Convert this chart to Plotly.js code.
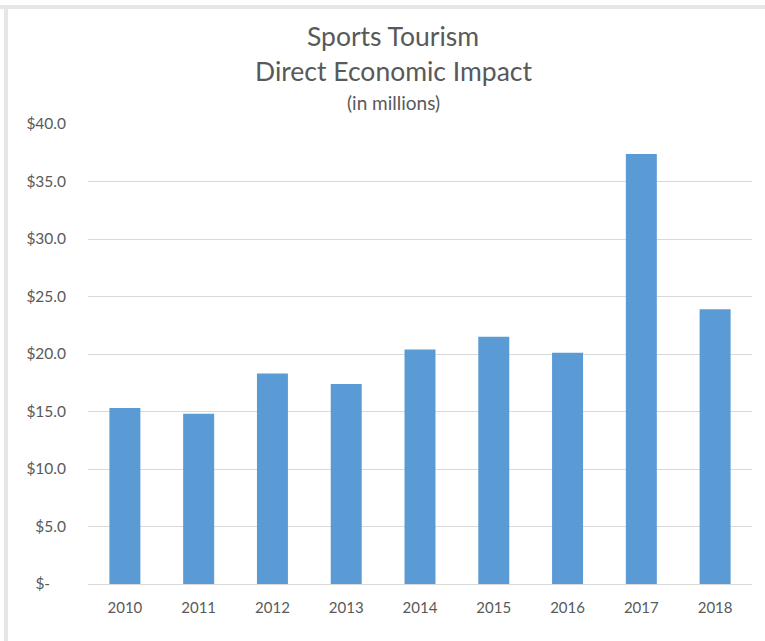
<!DOCTYPE html>
<html>
<head>
<meta charset="utf-8">
<script src="https://cdn.plot.ly/plotly-3.0.1.min.js"></script>
<style>html,body{margin:0;padding:0;background:#fff;}#chart{width:765px;height:641px;}</style>
</head>
<body>
<div id="chart"></div>
<script>
const years = ["2010","2011","2012","2013","2014","2015","2016","2017","2018"];
const impact = [15.3, 14.8, 18.3, 17.4, 20.4, 21.5, 20.1, 37.4, 23.9];
const tickVals = [0, 5, 10, 15, 20, 25, 30, 35, 40];
const tickLabels = ["$-\u00a0\u00a0\u00a0\u00a0", "$5.0", "$10.0", "$15.0", "$20.0", "$25.0", "$30.0", "$35.0", "$40.0"];
const titleLines = ["Sports Tourism", "Direct Economic Impact", "(in millions)"];

const W = 765, H = 641;
const L = 88, R = 13, T = 124, B = 57;
const pw = W - L - R, ph = H - T - B;
const px = x => (x - L) / pw;
const py = y => (H - B - y) / ph;

const font = "Lato, 'Open Sans', sans-serif";
const gray = "#595959";
const border = "#e6e6e6";

const data = [{
  type: "bar",
  x: years,
  y: impact,
  marker: {color: "#5b9bd5"},
  hoverinfo: "x+y"
}];

const layout = {
  width: W, height: H,
  margin: {l: L, r: R, t: T, b: B, pad: 0},
  paper_bgcolor: "#ffffff",
  plot_bgcolor: "#ffffff",
  showlegend: false,
  bargap: 0.58,
  font: {family: font, color: gray, size: 15},
  xaxis: {
    type: "category",
    showgrid: false,
    showline: true,
    linecolor: "#d9d9d9",
    linewidth: 1,
    ticks: "",
    ticklabelstandoff: 10,
    tickfont: {family: font, size: 15, color: gray},
    fixedrange: true
  },
  yaxis: {
    range: [0, 40],
    tickvals: tickVals,
    ticktext: tickLabels,
    showgrid: true,
    gridcolor: "#d9d9d9",
    gridwidth: 1,
    zeroline: false,
    showline: false,
    ticks: "",
    ticklabelstandoff: 21,
    tickfont: {family: font, size: 15.5, color: gray},
    fixedrange: true
  },
  annotations: [
    {text: titleLines[0], x: px(393), y: py(36), xref: "paper", yref: "paper", showarrow: false, xanchor: "center", yanchor: "middle", font: {family: font, size: 26.5, color: gray}},
    {text: titleLines[1], x: px(393), y: py(71), xref: "paper", yref: "paper", showarrow: false, xanchor: "center", yanchor: "middle", font: {family: font, size: 26.5, color: gray}},
    {text: titleLines[2], x: px(393), y: py(103), xref: "paper", yref: "paper", showarrow: false, xanchor: "center", yanchor: "middle", font: {family: font, size: 19, color: gray}}
  ],
  shapes: [
    {type: "rect", xref: "paper", yref: "paper", x0: px(0), x1: px(W), y0: py(9), y1: py(5), fillcolor: border, line: {width: 0}, layer: "above"},
    {type: "rect", xref: "paper", yref: "paper", x0: px(4), x1: px(8), y0: py(H), y1: py(5), fillcolor: border, line: {width: 0}, layer: "above"}
  ]
};

Plotly.newPlot("chart", data, layout, {displayModeBar: false});
</script>
</body>
</html>
